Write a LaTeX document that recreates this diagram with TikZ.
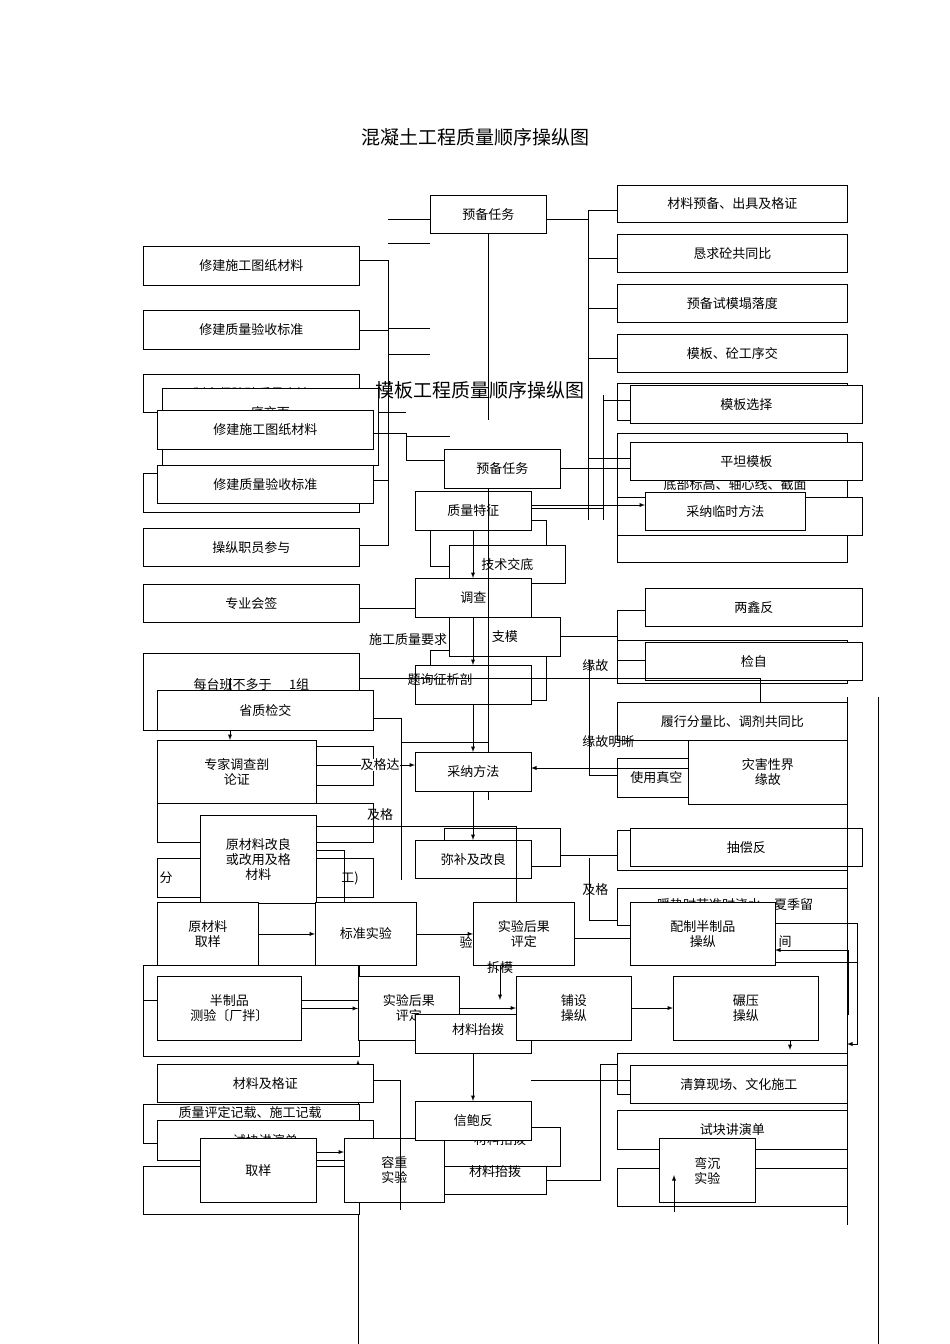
\documentclass[tikz,border=0pt]{standalone}
\usepackage{fontspec}
\setmainfont{Noto Sans CJK SC}
\begin{document}
\begin{tikzpicture}[x=1pt,y=-1pt,line width=0.9pt,
  box/.style={draw,fill=white,inner sep=1pt,font=\fontsize{13}{15}\selectfont,align=center},
  lbl/.style={font=\fontsize{13}{15}\selectfont,inner sep=0pt},
  arr/.style={-latex}]
\useasboundingbox[fill=white] (0,0) rectangle (950,1344);
\newcommand\B[6]{\node[box,anchor=north west,minimum width=#4pt-#2pt,minimum height=#5pt-#3pt,text width=#4pt-#2pt-4pt] (#1) at (#2,#3) {#6};}
% titles
\node[font=\fontsize{19}{21}\selectfont] (t1) at (475,137) {混凝土工程质量顺序操纵图};
% ---- diagram 1 ----
\draw (388,219)--(430,219) (388,243)--(430,243) (388,328)--(430,328) (388,354)--(430,354);
\draw (488,233)--(488,420);
\draw (546,219)--(588,219) (588,210)--(588,520) (588,210)--(617,210) (588,258)--(617,258) (588,308)--(617,308) (588,358)--(617,358) (603,395)--(603,520);
\B{a1}{430}{195}{546}{233}{预备任务}
\B{a2}{617}{185}{847}{222}{材料预备、出具及格证}
\B{a3}{617}{234}{847}{272}{恳求砼共同比}
\B{a4}{617}{284}{847}{322}{预备试模塌落度}
\B{a5}{617}{334}{847}{372}{模板、砼工序交}
\B{a6}{143}{246}{359}{285}{修建施工图纸材料}
\B{a7}{143}{310}{359}{349}{修建质量验收标准}
\draw (359,260)--(388,260)--(388,545)--(359,545);
\draw (359,330)--(388,330);
\B{a8}{143}{374}{359}{412}{制定保障砼质量方法}
\node[font=\fontsize{19}{21}\selectfont] (t2) at (480,390) {模板工程质量顺序操纵图};
% right bg boxes
\draw[fill=white] (617,383) rectangle (847,420);
\draw[fill=white] (617,433) rectangle (847,562);
\draw[fill=white] (617,497) rectangle (862,535);
\B{b1}{630}{385}{862}{423}{模板选择}
\node[lbl] (b0) at (735,485) {底部标高、轴心线、截面};
\B{b2}{630}{442}{862}{480}{平坦模板}
\B{b3}{645}{492}{805}{530}{采纳临时方法}
\draw (588,458)--(630,458) (603,400)--(630,400);
% left diagram 2
\B{c0}{162}{388}{378}{465}{底交面\\[14pt]操纵职员参与}
\B{c1}{157}{410}{373}{449}{修建施工图纸材料}
\draw[fill=white] (143,473) rectangle (359,512);
\B{c2}{157}{465}{373}{503}{修建质量验收标准}
\B{c3}{143}{528}{359}{566}{操纵职员参与}
\B{c4}{143}{584}{359}{622}{专业会签}
\draw (373,433)--(406,433)--(406,460)--(444,460) (406,436)--(450,436) (378,412)--(406,412);
\draw (373,480)--(388,480) (359,545)--(388,545) (359,608)--(415,608);
\B{c5}{444}{449}{560}{488}{预备任务}
\draw (560,468)--(630,468);
\draw[fill=white] (430,520) rectangle (546,566);
\B{c6}{415}{491}{531}{530}{质量特征}
\draw[arr] (531,505)--(645,505);
\draw (531,508)--(603,508);
\B{c7}{449}{545}{565}{583}{技术交底}
\draw[arr] (473,530)--(473,578);
\B{c8}{415}{578}{531}{617}{调查}
\draw[fill=white] (430,650) rectangle (546,700);
\B{c9}{449}{617}{560}{656}{支模}
\node[lbl,fill=white] (t3) at (408,640) {施工质量要求};
\B{c10}{415}{665}{531}{704}{}
\node[lbl] (t4) at (440,680) {题询征析剖};
\draw[arr] (473,617)--(473,665);
\draw (488,488)--(488,800);
\draw (560,636)--(617,636) (617,610)--(617,683);
\draw[fill=white] (617,640) rectangle (847,683);
\B{d1}{645}{588}{862}{626}{两鑫反}
\B{d2}{645}{642}{862}{680}{检自}
\draw (617,610)--(645,610) (617,660)--(645,660);
\node[lbl,anchor=west] (t5) at (582,666) {缘故};
\draw (589,660)--(589,775)--(617,775);
\draw[arr] (760,678)--(760,740);
\draw (230,678)--(760,678);
% left group 3
\B{e0}{143}{653}{359}{730}{每台班不多于 \quad 1组\\每100m³做1组}
\draw[arr] (230,678)--(230,740);
\B{e1}{157}{690}{373}{730}{省质检交}
\draw[fill=white] (157,746) rectangle (373,785);
\B{e2}{157}{740}{316}{803}{专家调查剖\\论证}
\draw[arr] (316,765)--(415,765);
\node[lbl,fill=white] (t6) at (380,765) {及格达};
\B{e3}{157}{803}{373}{842}{履行验收标准}
\node[lbl] (t7) at (380,815) {及格};
\B{e4}{157}{858}{373}{897}{}
\node[lbl] (t21) at (166,878) {分};
\node[lbl] (t22) at (350,878) {工)};
\B{e5}{200}{815}{316}{903}{原材料改良\\或改用及格\\材料}
\B{f1}{415}{752}{531}{791}{采纳方法}
\draw[arr] (473,704)--(473,752);
\draw (373,718)--(401,718)--(401,880) (401,742)--(488,742);
\draw[fill=white] (444,828) rectangle (560,866);
\B{f2}{415}{840}{531}{878}{弥补及改良}
\draw[arr] (473,791)--(473,840);
\draw (560,855)--(630,855) (316,826)--(516,826);
\draw[arr] (516,826)--(516,965);
\draw[arr] (316,850)--(344,850)--(344,950);
\draw[fill=white] (617,758) rectangle (847,797);
\node[lbl,anchor=west] (t8) at (630,778) {使用真空};
\B{g1}{617}{702}{847}{740}{履行分量比、调剂共同比}
\node[lbl,anchor=west] (t9) at (582,742) {缘故明晰};
\B{g2}{688}{740}{847}{804}{灾害性界\\缘故}
\draw[arr] (688,768)--(531,768);
\draw[fill=white] (617,830) rectangle (847,870);
\B{g3}{630}{828}{862}{866}{抽偿反}
\node[lbl,anchor=west] (t10) at (582,890) {及格};
\draw (589,858)--(589,920)--(630,920);
\draw[fill=white] (617,888) rectangle (847,925);
\node[lbl] (t11) at (735,905) {暖热时节准时浇水，夏季留};
\draw[fill=white] (630,923) rectangle (857,962);
\node[lbl] (t12) at (785,942) {间};
\B{h1}{630}{902}{775}{965}{配制半制品\\操纵}
\draw[arr] (857,960)--(857,1044)--(847,1044);
\draw[arr] (848,1015)--(848,950)--(775,950);
% row 1
\draw (143,965) rectangle (359,1005);
\B{i1}{157}{902}{258}{965}{原材料\\取样}
\B{i2}{315}{902}{416}{965}{标准实验}
\B{i3}{473}{902}{574}{965}{实验后果\\评定}
\node[lbl] (t13) at (466,942) {验};
\draw[arr] (i1)--(i2);
\draw[arr] (i2)--(i3);
\draw (574,938)--(630,938);
\node[lbl] (t14) at (500,968) {拆模};
\draw (358,965)--(358,1050);
% row 2
\draw[fill=white] (143,1000) rectangle (359,1056);
\node[lbl] (t15) at (255,1032) {分项施工(施工)};
\B{j1}{157}{976}{301}{1040}{半制品\\测验〔厂拌〕}
\B{j2}{358}{976}{459}{1040}{实验后果\\评定}
\draw[fill=white] (415,1014) rectangle (531,1053);
\node[lbl] (t16) at (478,1030) {材料抬拨};
\B{j3}{516}{976}{631}{1040}{铺设\\操纵}
\B{j4}{673}{976}{818}{1040}{碾压\\操纵}
\draw[arr] (j1)--(j2);
\draw[arr] (459,1008)--(516,1008);
\draw[arr] (631,1008)--(673,1008);
\draw[arr] (500,965)--(500,1000);
% lower part
\draw[arr] (358,1344)--(358,1060);
\B{k1}{157}{1064}{373}{1102}{材料及格证}
\draw[fill=white] (143,1104) rectangle (359,1143);
\node[lbl] (t17) at (250,1113) {质量评定记载、施工记载};
\draw[fill=white] (143,1166) rectangle (359,1214);
\B{k2}{157}{1120}{373}{1160}{试块讲演单}
\B{k3}{200}{1138}{316}{1202}{取样}
\B{k4}{344}{1138}{444}{1202}{容重\\实验}
\draw[arr] (316,1152)--(344,1152);
\draw[fill=white] (444,1127) rectangle (560,1166);
\node[lbl] (t18) at (500,1140) {材料抬拨};
\draw[fill=white] (444,1166) rectangle (546,1194);
\node[lbl] (t19) at (495,1172) {材料抬拨};
\B{k5}{415}{1101}{531}{1140}{信鲍反}
\draw[arr] (473,1053)--(473,1101);
\draw (373,1080)--(400,1080)--(400,1210);
\draw (546,1180)--(600,1180)--(600,1064)--(630,1064);
\draw[fill=white] (617,1053) rectangle (847,1094);
\B{l1}{630}{1065}{847}{1103}{清算现场、文化施工}
\B{l2}{617}{1110}{847}{1149}{试块讲演单}
\draw (617,1168) rectangle (847,1206);
\B{l3}{659}{1138}{755}{1202}{弯沉\\实验}
\draw[arr] (674,1212)--(674,1175);
\draw[arr] (790,1040)--(790,1050);
\draw (847,697)--(847,1225);
\draw (878,697)--(878,1344);
\draw (531,1080)--(630,1080);
\end{tikzpicture}
\end{document}
